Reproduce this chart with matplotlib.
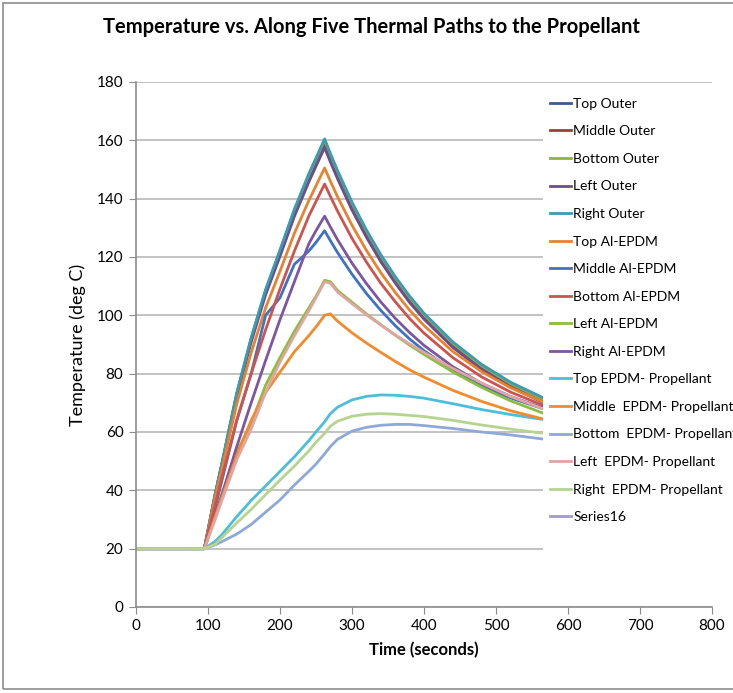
import matplotlib.pyplot as plt
from matplotlib.patches import Rectangle

plt.rcParams['font.family'] = ['Lato', 'DejaVu Sans']

# time grid (seconds)
time = [0, 95, 110, 120, 140, 160, 180, 200, 220, 240, 250, 262, 270, 280,
        300, 320, 340, 360, 380, 400, 440, 480, 520, 565]

top_outer = [20, 20, 38.6, 49.8, 73.0, 91.8, 108.2, 121.7, 135.6, 147.5, 153.0, 159.5,
             154.5, 148.6, 137.8, 128.3, 119.9, 112.4, 105.7, 99.9, 90.0, 82.3, 76.3, 71.0]
middle_outer = [20, 20, 38.5, 49.7, 72.9, 91.5, 107.9, 121.3, 135.2, 147.1, 152.5, 159.0,
                154.0, 148.1, 137.3, 127.8, 119.4, 111.9, 105.2, 99.4, 89.5, 81.8, 75.8, 70.5]
bottom_outer = [20, 20, 38.6, 49.9, 73.2, 92.1, 108.5, 122.1, 136.0, 148.0, 153.5, 160.0,
                155.0, 149.1, 138.3, 128.8, 120.3, 112.8, 106.1, 100.2, 90.4, 82.7, 76.6, 71.3]
left_outer = [20, 20, 38.3, 49.4, 72.3, 90.8, 107.0, 120.2, 133.9, 145.7, 151.1, 157.5,
              152.6, 146.8, 136.1, 126.8, 118.4, 111.1, 104.4, 98.7, 89.0, 81.4, 75.4, 70.2]
right_outer = [20, 20, 38.7, 50.0, 73.4, 92.3, 108.8, 122.4, 136.4, 148.5, 153.9, 160.5,
               155.5, 149.6, 138.8, 129.3, 120.8, 113.3, 106.6, 100.7, 90.9, 83.2, 77.1, 71.8]
top_al = [20, 20, 37.4, 47.9, 69.6, 87.2, 102.5, 115.1, 128.1, 139.3, 144.4, 150.5,
          146.0, 140.6, 130.9, 122.3, 114.6, 107.9, 101.8, 96.5, 87.6, 80.7, 75.2, 70.4]
middle_al = [20, 20, 34, 44, 64, 80, 100, 106, 117.5, 122, 125, 129,
             125.6, 121.5, 114.1, 107.5, 101.7, 96.5, 91.9, 87.9, 81.1, 75.8, 71.7, 68.0]
bottom_al = [20, 20, 35, 45, 64, 80, 95, 109, 122, 134, 139, 145,
             140.8, 135.7, 126.4, 118.3, 111.0, 104.7, 98.9, 93.9, 85.5, 78.9, 73.7, 69.2]
left_al = [20, 20, 31, 39, 53, 63, 76, 85.5, 94.5, 102.5, 106.5, 112,
           111.5, 108.5, 104.5, 100.5, 96.8, 93.2, 89.8, 86.6, 80.6, 75.3, 70.7, 66.5]
right_al = [20, 20, 31.5, 39, 55, 70, 84.5, 98.5, 111.5, 124.5, 129, 134,
            130.3, 125.9, 117.9, 110.9, 104.6, 99.0, 94.1, 89.7, 82.4, 76.7, 72.2, 68.3]
top_prop = [20, 20, 22.5, 25, 31, 36.5, 41.5, 46.5, 51.5, 57, 60, 63.5,
            66.3, 68.5, 71, 72.2, 72.7, 72.6, 72.2, 71.6, 69.7, 67.7, 66, 64.3]
middle_prop = [20, 20, 31, 38, 52, 64, 73.5, 80.5, 87.5, 93, 96, 100,
               100.5, 98, 94, 90.5, 87.3, 84.2, 81.3, 78.8, 74.3, 70.5, 67.3, 64.5]
bottom_prop = [20, 20, 21.3, 22.5, 25, 28.3, 32.5, 36.7, 41.8, 46.5, 49, 52.5,
               55, 57.5, 60.3, 61.6, 62.3, 62.6, 62.6, 62.2, 61.2, 60, 59, 57.6]
left_prop = [20, 20, 30, 37, 50.5, 61, 73.5, 84, 93, 101.5, 106, 111.5,
             111, 108, 104, 100.2, 96.7, 93.3, 90.2, 87.3, 81.8, 76.8, 72.2, 68]
right_prop = [20, 20, 21.5, 24, 28.8, 33.5, 38.5, 43.5, 48.3, 53.5, 56.5, 59.5,
              62, 63.7, 65.4, 66.1, 66.3, 66.1, 65.7, 65.3, 64, 62.4, 61, 59.6]
series16 = []

names = ['Top Outer', 'Middle Outer', 'Bottom Outer', 'Left Outer', 'Right Outer',
         'Top Al-EPDM', 'Middle Al-EPDM', 'Bottom Al-EPDM', 'Left Al-EPDM', 'Right Al-EPDM',
         'Top EPDM- Propellant', 'Middle  EPDM- Propellant', 'Bottom  EPDM- Propellant',
         'Left  EPDM- Propellant', 'Right  EPDM- Propellant', 'Series16']
series = [top_outer, middle_outer, bottom_outer, left_outer, right_outer,
          top_al, middle_al, bottom_al, left_al, right_al,
          top_prop, middle_prop, bottom_prop, left_prop, right_prop, series16]
colors = ['#3C5A96', '#A33B38', '#8DB050', '#6A4F8C', '#3A9BB1',
          '#E8822F', '#3C74C4', '#D0524E', '#8CBD3C', '#7D55A0',
          '#4BBFD8', '#F38A2C', '#8EA9D6', '#E0A5A3', '#B6D38F', '#A59AC9']

fig = plt.figure(figsize=(7.33, 6.93), dpi=100)
ax = fig.add_axes([0.1855, 0.1241, 0.7858, 0.7576])

for name, vals, c in zip(names, series, colors):
    ax.plot(time[:len(vals)], vals, color=c, lw=2, label=name)

ax.set_xlim(0, 800)
ax.set_ylim(0, 180)
ax.set_xticks(range(0, 801, 100))
ax.set_yticks(range(0, 181, 20))
ax.grid(axis='y', color='#BDBDBD', lw=1.3)
ax.set_axisbelow(True)
for s in ['top', 'right']:
    ax.spines[s].set_visible(False)
for s in ['left', 'bottom']:
    ax.spines[s].set_color('#8C8C8C')
    ax.spines[s].set_linewidth(1.2)
ax.tick_params(direction='out', length=5, color='#8C8C8C', labelsize=11, pad=4)

ax.set_ylabel('Temperature (deg C)', fontsize=13, labelpad=8)
ax.set_xlabel('Time (seconds)', fontsize=12, fontweight='bold', labelpad=6)
fig.suptitle('Temperature vs. Along Five Thermal Paths to the Propellant',
             x=0.507, y=0.975, fontsize=14.5, fontweight='bold')

# white legend area that sits over the plot, as in the Excel chart
fig.patches.append(Rectangle((0.7408, 0.197), 0.26, 0.676, transform=fig.transFigure,
                             facecolor='white', edgecolor='none', zorder=2))

leg = fig.legend(loc='upper left', bbox_to_anchor=(0.732, 0.879), fontsize=10,
                 frameon=False, handlelength=1.45, handletextpad=0.2,
                 labelspacing=1.12, borderpad=0.5)
leg.set_zorder(3)

fig.patches.append(Rectangle((0.004, 0.006), 1.2, 0.99, transform=fig.transFigure,
                             fill=False, edgecolor='#8C8C8C', lw=1.2))

fig.savefig('out.png', dpi=100)
